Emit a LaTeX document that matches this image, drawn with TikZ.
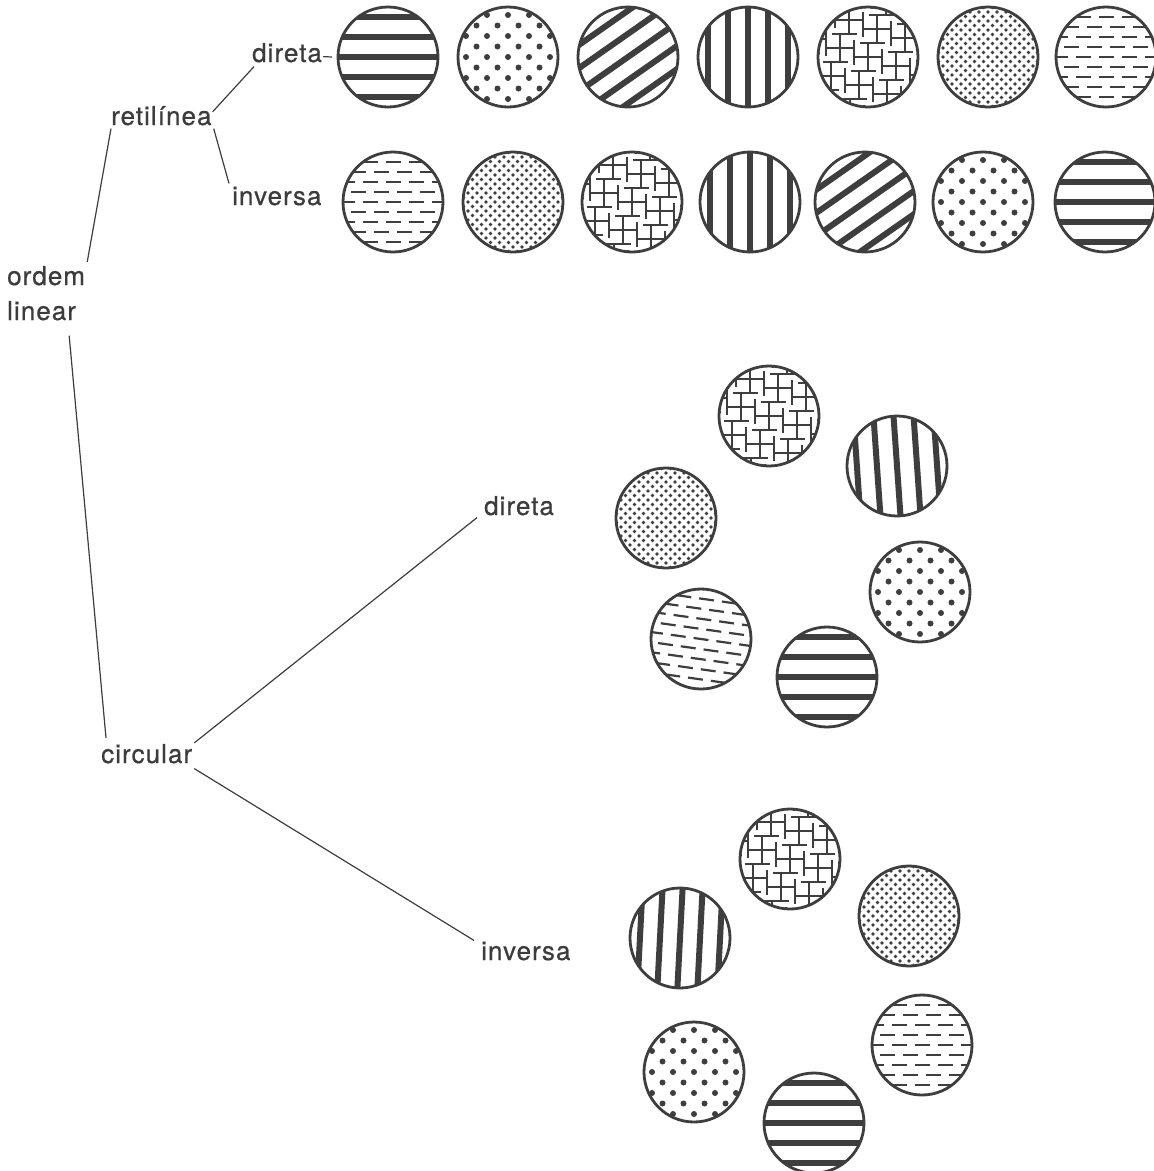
\documentclass[tikz,border=0pt]{standalone}
\usepackage{fontspec}
\newfontfamily\labfont{TeX Gyre Heros}[LetterSpace=4,FakeBold=0.6]
\definecolor{ink}{HTML}{3E3E3E}
\definecolor{txt}{HTML}{3C3C3C}
\tikzset{
  lab/.style={font=\labfont\fontsize{26}{30}\selectfont, text=txt, inner sep=0pt, anchor=base west},
  conn/.style={draw=ink, line width=1.2pt},
  rim/.style={draw=ink, line width=2.8pt},
  cpot/.pic={\draw[ink, line width=2.2pt] (-14,0)--(14,0) (0,-14)--(0,14) (-14,-8)--(-14,8) (14,-8)--(14,8) (-8,-14)--(8,-14) (-8,14)--(8,14);}
}
\newcommand\patH{\foreach \k in {-2,...,2}{\fill[ink] (-60,\k*20-3) rectangle (60,\k*20+3);}}
\newcommand\patV{\foreach \k in {-2,...,2}{\fill[ink] (\k*20-3,-60) rectangle (\k*20+3,60);}}
\newcommand\patD{\begin{scope}[rotate=35]\foreach \k in {-3,...,3}{\fill[ink] (-70,\k*19-3) rectangle (70,\k*19+3);}\end{scope}}
\newcommand\patS{\foreach \i in {-3,...,3}{\foreach \j in {-3,...,3}{\fill[ink] (\i*21,\j*21) circle (3pt); \fill[ink] (\i*21+10.5,\j*21+10.5) circle (3pt);}}}
\newcommand\patT{\foreach \i in {-6,...,6}{\foreach \j in {-6,...,6}{\fill[ink] (\i*9,\j*9) circle (1.9pt); \fill[ink] (\i*9+4.5,\j*9+4.5) circle (1.9pt);}}}
\newcommand\patL{\foreach \i in {-3,...,3}{\foreach \j in {-3,...,3}{\draw[ink,line width=2.2pt] (\i*23-7.5,\j*20) -- ++(15,0); \draw[ink,line width=2.2pt] (\i*23+4,\j*20+10) -- ++(15,0);}}}
\newcommand\patX{\foreach \i in {-3,...,3}{\foreach \j in {-3,...,3}{\pic at (\i*28-\j*9,\i*9+\j*28) {cpot};}}}
\newcommand\disc[4]{%
  \begin{scope}[shift={(#1,#2)}]
    \begin{scope}
      \clip (0,0) circle (50);
      \begin{scope}[rotate=#4]#3\end{scope}
    \end{scope}
    \draw[rim] (0,0) circle (50);
  \end{scope}}
\begin{document}
\begin{tikzpicture}[x=1pt,y=-1pt]
\useasboundingbox (0,0) rectangle (1154,1171);
\fill[white] (0,0) rectangle (1154,1171);
% row retilinea direta
\disc{388}{57}{\patH}{0}
\disc{508}{57}{\patS}{0}
\disc{628}{57}{\patD}{0}
\disc{748}{57}{\patV}{0}
\disc{868}{57}{\patX}{0}
\disc{988}{57}{\patT}{0}
\disc{1106}{57}{\patL}{0}
% row retilinea inversa
\disc{393}{202}{\patL}{0}
\disc{513}{202}{\patT}{0}
\disc{632}{202}{\patX}{0}
\disc{750}{202}{\patV}{0}
\disc{865}{202}{\patD}{0}
\disc{983}{202}{\patS}{0}
\disc{1105}{202}{\patH}{0}
% circular direta
\disc{769}{416}{\patX}{0}
\disc{897}{466}{\patV}{4}
\disc{666}{518}{\patT}{0}
\disc{920}{592}{\patS}{0}
\disc{701}{639}{\patL}{-8}
\disc{827}{677}{\patH}{0}
% circular inversa
\disc{790}{859}{\patX}{0}
\disc{909}{916}{\patT}{0}
\disc{680}{938}{\patV}{-3}
\disc{922}{1045}{\patL}{0}
\disc{694}{1072}{\patS}{0}
\disc{814}{1123}{\patH}{0}
\coordinate (c11) at (388,57);
% labels
\node[lab] (d1) at (252,62) {direta};
\node[lab] (ret) at (111,125) {retilínea};
\node[lab] (inv1) at (232,205) {inversa};
\node[lab] (ordem) at (7,285) {ordem};
\node[lab] (linear) at (7,320) {linear};
\node[lab] (circ) at (101,763) {circular};
\node[lab] (d2) at (484,515) {direta};
\node[lab] (inv2) at (481,960) {inversa};
% connectors
\draw[conn] ([xshift=2pt,yshift=4pt]ordem.north east) -- ([yshift=-3pt]ret.south west);
\draw[conn] ([xshift=1pt,yshift=4pt]ret.east) -- ([xshift=2pt,yshift=-4pt]d1.south west);
\draw[conn] ([xshift=2pt,yshift=-3pt]ret.south east) -- ([xshift=-3pt,yshift=3pt]inv1.north west);
\draw[conn] ([xshift=1pt,yshift=6pt]d1.south east) -- ([xshift=-56pt]c11);
\draw[conn] ([xshift=-7pt,yshift=-15pt]linear.south east) -- ([xshift=5pt,yshift=6pt]circ.north west);
\draw[conn] ([xshift=2pt,yshift=1pt]circ.north east) -- ([xshift=-7pt,yshift=-2pt]d2.south west);
\draw[conn] ([xshift=2pt,yshift=-5pt]circ.south east) -- ([xshift=-7pt,yshift=1pt]inv2.north west);
\end{tikzpicture}
\end{document}
